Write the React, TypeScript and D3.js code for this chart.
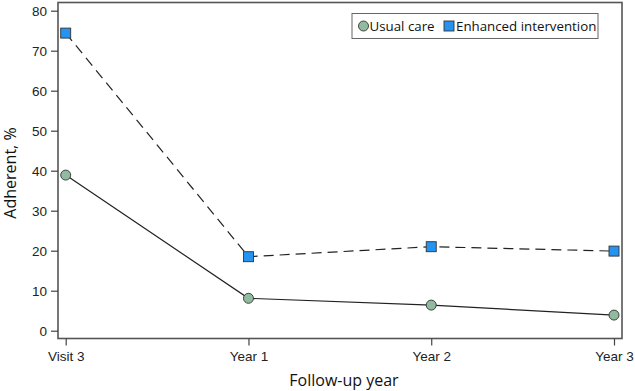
import React, { useRef, useEffect } from 'react';
import * as d3 from 'd3';

// chart data
const categories = ['Visit 3', 'Year 1', 'Year 2', 'Year 3'];
const usualCare = [38.9, 8.1, 6.4, 3.9];
const enhanced = [74.4, 18.5, 21.0, 19.9];
const yTicks = [0, 10, 20, 30, 40, 50, 60, 70, 80];

const App = () => {
  const svgRef = useRef<SVGSVGElement>(null);

  useEffect(() => {
    const svg = d3.select(svgRef.current);
    svg.selectAll('*').remove();

    const width = 635;
    const height = 391;
    const frame = { left: 58, right: 622, top: 2.5, bottom: 338.5 };
    const tickFont = '"Liberation Sans", Arial, sans-serif';
    const titleFont = '"Open Sans", "Noto Sans", sans-serif';

    const x = d3.scalePoint<string>()
      .domain(categories)
      .range([65.7, 614]);
    const y = d3.scaleLinear()
      .domain([0, 80])
      .range([330.7, 10.7]);

    svg.append('rect')
      .attr('width', width)
      .attr('height', height)
      .attr('fill', 'white');

    // frame
    svg.append('rect')
      .attr('x', frame.left)
      .attr('y', frame.top)
      .attr('width', frame.right - frame.left)
      .attr('height', frame.bottom - frame.top)
      .attr('fill', 'none')
      .attr('stroke', '#555')
      .attr('stroke-width', 1.6);

    // y axis
    const yAxis = svg.append('g')
      .attr('transform', `translate(${frame.left},0)`)
      .call(d3.axisLeft(y).tickValues(yTicks).tickSize(7).tickPadding(4).tickFormat(d3.format('d')));
    yAxis.select('.domain').remove();
    yAxis.selectAll('line').attr('stroke', '#444').attr('stroke-width', 1.2);
    yAxis.selectAll('text')
      .attr('fill', '#222')
      .style('font-family', tickFont)
      .style('font-size', '13.5px');

    // x axis
    const xAxis = svg.append('g')
      .attr('transform', `translate(0,${frame.bottom})`)
      .call(d3.axisBottom(x).tickSize(7).tickPadding(6));
    xAxis.select('.domain').remove();
    xAxis.selectAll('line').attr('stroke', '#444').attr('stroke-width', 1.2);
    xAxis.selectAll('text')
      .attr('fill', '#222')
      .style('font-family', tickFont)
      .style('font-size', '13.5px');

    // axis titles
    svg.append('text')
      .attr('x', 344)
      .attr('y', 386)
      .attr('text-anchor', 'middle')
      .style('font-family', titleFont)
      .style('font-size', '16px')
      .attr('fill', '#111')
      .text('Follow-up year');

    svg.append('text')
      .attr('transform', 'translate(16,173) rotate(-90)')
      .attr('text-anchor', 'middle')
      .style('font-family', titleFont)
      .style('font-size', '16px')
      .attr('fill', '#111')
      .text('Adherent, %');

    const line = d3.line<number>()
      .x((d, i) => x(categories[i]) as number)
      .y(d => y(d));

    svg.append('path')
      .datum(enhanced)
      .attr('d', line)
      .attr('fill', 'none')
      .attr('stroke', '#222')
      .attr('stroke-width', 1.2)
      .attr('stroke-dasharray', '10,6');

    svg.append('path')
      .datum(usualCare)
      .attr('d', line)
      .attr('fill', 'none')
      .attr('stroke', '#222')
      .attr('stroke-width', 1.2);

    svg.selectAll('.pt-usual')
      .data(usualCare)
      .enter()
      .append('circle')
      .attr('cx', (d, i) => x(categories[i]) as number)
      .attr('cy', d => y(d))
      .attr('r', 5)
      .attr('fill', '#91bb9e')
      .attr('stroke', '#333')
      .attr('stroke-width', 0.9);

    svg.selectAll('.pt-enh')
      .data(enhanced)
      .enter()
      .append('rect')
      .attr('x', (d, i) => (x(categories[i]) as number) - 5)
      .attr('y', d => y(d) - 5)
      .attr('width', 10)
      .attr('height', 10)
      .attr('fill', '#2593f0')
      .attr('stroke', '#333')
      .attr('stroke-width', 0.9);

    // legend
    const lg = svg.append('g');
    lg.append('rect')
      .attr('x', 352)
      .attr('y', 13.5)
      .attr('width', 246)
      .attr('height', 25)
      .attr('fill', 'white')
      .attr('stroke', '#666')
      .attr('stroke-width', 1);
    lg.append('circle')
      .attr('cx', 363.5)
      .attr('cy', 26)
      .attr('r', 5)
      .attr('fill', '#91bb9e')
      .attr('stroke', '#333')
      .attr('stroke-width', 0.9);
    lg.append('text')
      .attr('x', 369.5)
      .attr('y', 31)
      .style('font-family', titleFont)
      .style('font-size', '13.3px')
      .attr('fill', '#111')
      .text('Usual care');
    lg.append('rect')
      .attr('x', 444)
      .attr('y', 21)
      .attr('width', 10)
      .attr('height', 10)
      .attr('fill', '#2593f0')
      .attr('stroke', '#333')
      .attr('stroke-width', 0.9);
    lg.append('text')
      .attr('x', 456)
      .attr('y', 31)
      .style('font-family', titleFont)
      .style('font-size', '13.3px')
      .attr('fill', '#111')
      .text('Enhanced intervention');
  }, []);

  return (
    <svg ref={svgRef} width={635} height={391} style={{ display: 'block', position: 'absolute', left: 0, top: 0 }}></svg>
  );
};

export default App;
